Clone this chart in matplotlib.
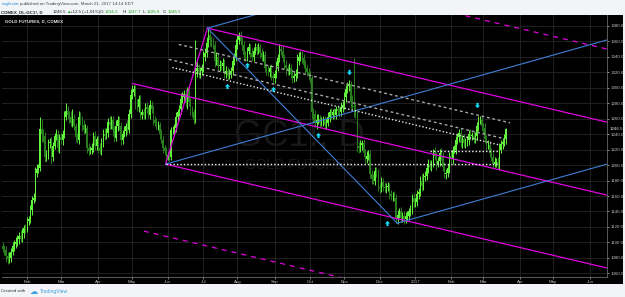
import matplotlib.pyplot as plt
import numpy as np
import pandas as pd
from matplotlib.patches import Rectangle
from matplotlib.path import Path

plt.rcParams["font.family"] = ["Liberation Sans", "DejaVu Sans"]

# daily bars, GC1! from 2016-01-11 to 2017-03-21 (business days)
dates = pd.bdate_range("2016-01-11", "2017-06-30")
first_open = 1095

closes = [
    # Jan 2016
    1092, 1090, 1083, 1078, 1080, 1088, 1095, 1098, 1100, 1104, 1108, 1105, 1112, 1118, 1117,
    # Feb
    1128, 1130, 1142, 1155, 1158, 1190, 1195, 1196, 1247, 1240, 1238, 1210, 1212, 1228, 1230,
    1210, 1225, 1238, 1240, 1222, 1236,
    # Mar
    1232, 1240, 1262, 1270, 1265, 1262, 1255, 1260, 1250, 1236, 1232, 1262, 1258, 1252, 1245,
    1248, 1222, 1218, 1220, 1222, 1238, 1225, 1234,
    # Apr
    1222, 1218, 1230, 1240, 1238, 1242, 1256, 1252, 1258, 1245, 1235, 1250, 1258, 1250, 1232,
    1240, 1244, 1250, 1245, 1266, 1290,
    # May
    1295, 1298, 1280, 1275, 1285, 1265, 1268, 1265, 1275, 1272, 1265, 1278, 1272, 1258, 1255,
    1250, 1252, 1240, 1233, 1222, 1218, 1212,
    # Jun
    1212, 1210, 1245, 1245, 1248, 1262, 1268, 1272, 1285, 1288, 1292, 1280, 1296, 1282, 1270,
    1268, 1258, 1322, 1325, 1318, 1322, 1325,
    # Jul
    1340, 1345, 1358, 1368, 1362, 1358, 1355, 1335, 1340, 1328, 1330, 1328, 1332, 1318, 1322,
    1315, 1318, 1322, 1335, 1340, 1355,
    # Aug
    1362, 1368, 1360, 1355, 1342, 1340, 1348, 1352, 1345, 1340, 1348, 1352, 1348, 1352, 1345,
    1340, 1342, 1325, 1322, 1320, 1325, 1315, 1312,
    # Sep
    1318, 1328, 1338, 1350, 1348, 1338, 1330, 1325, 1322, 1326, 1318, 1312, 1315, 1318, 1335,
    1340, 1342, 1338, 1330, 1325, 1320, 1316,
    # Oct
    1312, 1268, 1266, 1255, 1258, 1260, 1255, 1256, 1258, 1252, 1255, 1262, 1268, 1265, 1268,
    1265, 1272, 1270, 1268, 1275, 1278,
    # Nov
    1288, 1298, 1302, 1305, 1282, 1276, 1275, 1266, 1225, 1222, 1226, 1228, 1216, 1208, 1212,
    1214, 1188, 1182, 1180, 1192, 1190, 1172,
    # Dec
    1170, 1178, 1172, 1170, 1172, 1172, 1162, 1160, 1160, 1158, 1130, 1136, 1140, 1132, 1134,
    1130, 1134, 1134, 1140, 1142, 1158, 1152,
    # Jan 2017
    1152, 1162, 1165, 1180, 1173, 1185, 1186, 1196, 1200, 1198, 1202, 1215, 1212, 1202, 1205,
    1216, 1212, 1198, 1188, 1190, 1196, 1212,
    # Feb
    1208, 1220, 1220, 1232, 1236, 1242, 1228, 1234, 1228, 1230, 1232, 1240, 1238, 1238, 1234,
    1238, 1250, 1258, 1258, 1250,
    # Mar
    1248, 1234, 1226, 1226, 1216, 1210, 1202, 1204, 1204, 1200, 1220, 1227, 1230, 1234.2, 1246.5,
]

wick_hi = [
    6, 5, 6, 4, 8, 5, 6, 5, 7, 6, 5, 8, 6, 5, 6,
    5, 4, 6, 5, 6, 8, 6, 5, 15, 12, 6, 5, 8, 6, 5, 6, 5, 4, 6, 5, 4,
    6, 5, 8, 10, 6, 5, 8, 12, 6, 5, 6, 8, 6, 5, 6, 5, 4, 6, 5, 6, 5, 6, 4,
    5, 6, 5, 6, 8, 6, 5, 8, 6, 5, 6, 8, 6, 5, 6, 5, 6, 5, 8, 6, 8,
    8, 6, 5, 6, 5, 6, 5, 6, 5, 6, 5, 6, 5, 6, 5, 6, 5, 4, 6, 5, 4, 6,
    5, 6, 4, 6, 5, 6, 5, 6, 8, 6, 5, 6, 5, 6, 5, 6, 5, 40, 10, 6, 5, 6,
    8, 6, 8, 9, 6, 5, 6, 5, 6, 5, 6, 5, 6, 5, 6, 5, 6, 5, 6, 5, 8,
    6, 4, 5, 6, 5, 6, 5, 6, 5, 6, 5, 6, 5, 6, 5, 6, 5, 6, 5, 8, 5, 6, 5,
    5, 6, 5, 6, 5, 6, 5, 6, 5, 6, 5, 6, 5, 6, 8, 6, 5, 6, 5, 6, 5, 6,
    6, 4, 6, 5, 8, 6, 5, 6, 5, 6, 5, 6, 5, 6, 5, 6, 5, 6, 5, 6, 5,
    6, 5, 6, 5, 4, 8, 62, 5, 6, 5, 6, 5, 6, 5, 6, 5, 6, 5, 6, 5, 6, 5,
    5, 6, 5, 6, 5, 6, 5, 6, 5, 6, 5, 6, 5, 6, 5, 6, 5, 6, 5, 6, 5, 6,
    5, 6, 5, 6, 8, 5, 6, 5, 8, 6, 5, 6, 8, 5, 6, 5, 6, 5, 6, 5, 6, 5,
    6, 5, 6, 5, 6, 5, 6, 5, 6, 5, 6, 5, 6, 5, 6, 5, 6, 6, 6, 5,
    5, 6, 5, 6, 5, 6, 5, 6, 5, 6, 8, 6, 5, 6, 1.2,
]

wick_lo = [
    5, 6, 8, 6, 4, 5, 4, 6, 5, 4, 6, 5, 4, 6, 5,
    4, 6, 5, 6, 4, 5, 6, 5, 4, 10, 8, 6, 5, 4, 6, 8, 5, 4, 6, 5, 6,
    5, 6, 5, 4, 6, 8, 5, 6, 5, 6, 4, 5, 6, 8, 5, 4, 6, 5, 4, 6, 5, 6, 5,
    6, 4, 5, 6, 5, 4, 6, 5, 6, 8, 5, 4, 6, 5, 6, 5, 4, 6, 5, 4, 5,
    5, 6, 8, 5, 6, 5, 6, 5, 6, 5, 4, 6, 5, 6, 5, 4, 5, 6, 5, 6, 5, 11,
    6, 5, 4, 5, 6, 5, 6, 5, 6, 5, 6, 5, 8, 6, 5, 6, 5, 4, 8, 6, 5, 6,
    5, 6, 5, 6, 8, 6, 5, 8, 6, 5, 6, 5, 6, 5, 6, 5, 4, 6, 5, 6, 5,
    5, 6, 5, 6, 8, 5, 6, 5, 6, 5, 6, 5, 6, 5, 6, 5, 6, 5, 6, 5, 6, 5, 6,
    6, 5, 6, 5, 6, 5, 6, 8, 5, 6, 5, 6, 5, 6, 5, 6, 5, 6, 5, 6, 5, 6,
    6, 8, 10, 6, 8, 5, 6, 5, 6, 5, 6, 5, 6, 5, 6, 5, 6, 5, 6, 5, 6,
    5, 6, 5, 6, 8, 6, 13, 5, 8, 6, 5, 6, 5, 6, 5, 6, 5, 6, 5, 6, 5, 6,
    6, 5, 6, 5, 6, 5, 6, 5, 6, 5, 5, 6, 5, 6, 5, 6, 5, 6, 5, 6, 5, 6,
    6, 5, 6, 5, 6, 5, 6, 5, 6, 5, 6, 5, 6, 8, 5, 6, 5, 6, 5, 6, 5, 6,
    5, 6, 5, 6, 5, 6, 5, 6, 5, 6, 5, 6, 5, 6, 5, 6, 5, 6, 5, 6,
    6, 5, 6, 5, 6, 5, 6, 5, 6, 5, 6, 5, 6, 5, 7.6,
]

month_labels = ["Feb", "Mar", "Apr", "May", "Jun", "Jul", "Aug", "Sep", "Oct", "Nov", "Dec",
                "2017", "Feb", "Mar", "Apr", "May", "Jun"]
price_ticks = list(range(1060, 1381, 20))
last_price = 1246.5

# drawing anchors (bar index, price)
piv_a = (100.6, 1201.2)      # end of May low
piv_b = (126.5, 1377.0)      # July high
piv_c = (243.8, 1124.9)      # December low
piv_m = (80.1, 1305.5)       # early May high
chan_slope = -0.492          # price per bar of the magenta channel
dash_lo = (87.2, 1114.6)
dash_hi = (280.0, 1396.0)
gray_lines = [((108.8, 1356.0), (313.6, 1254.6)),
              ((102.7, 1336.6), (309.4, 1234.4))]
white_line = ((104.8, 1326.2), (307.4, 1225.8))
hlines = [(1201.2, 100.6, 305.5), (1218.4, 264.0, 307.0)]
arrows_up = [(138.9, 1302.1), (151.2, 1329.2), (167.3, 1298.2), (195.1, 1238.7), (237.7, 1124.5)]
arrows_dn = [(214.2, 1320.2), (293.2, 1277.5)]

W, H = 625, 297
fig = plt.figure(figsize=(W / 100, H / 100), dpi=100)
fig.patch.set_facecolor("#f2f4f7")
fig.patches.append(Rectangle((0, 13 / H), 623 / W, 269 / H, transform=fig.transFigure,
                             facecolor="black", edgecolor="none", zorder=-5))
ax = fig.add_axes([2 / W, 20 / H, 605 / W, 262 / H])
ax.set_zorder(2)
ax.set_facecolor("black")

n = len(closes)
idx = np.arange(n)
c = np.array(closes, dtype=float)
o = np.concatenate([[first_open], c[:-1]])
hi = np.maximum(o, c) + np.array(wick_hi)
lo = np.minimum(o, c) - np.array(wick_lo)
up = c >= o
cols = np.where(up, "#62f53c", "#2a7f1e")
ax.vlines(idx, lo, hi, colors=cols, lw=0.7, zorder=3)
ax.bar(idx, np.maximum(np.abs(c - o), 0.6), bottom=np.minimum(o, c), width=0.7,
       color=cols, zorder=3)

x_end = 373.5
ax.set_xlim(-0.5, x_end)
ax.set_ylim(1055.3, 1394.0)

# watermark
ax.text(0.492, 0.54, "GC1!, D", transform=ax.transAxes, ha="center", va="center",
        fontsize=26, color="#181818", zorder=1)
ax.text(0.492, 0.428, "GOLD FUTURES", transform=ax.transAxes, ha="center", va="center",
        fontsize=10, color="#181818", zorder=1)


def chan(p, xe):
    return [p[0], xe], [p[1], p[1] + chan_slope * (xe - p[0])]


mag = "#e100e1"
blue = "#3f7fd6"
ax.plot([piv_a[0], piv_b[0]], [piv_a[1], piv_b[1]], color=mag, lw=0.9, zorder=4)
for p in (piv_b, piv_m, piv_a):
    ax.plot(*chan(p, x_end), color=mag, lw=0.9, zorder=4)
for p in (dash_lo, dash_hi):
    ax.plot(*chan(p, x_end), color=mag, lw=0.9, ls=(0, (4, 4)), zorder=4)

mid = ((piv_b[0] + piv_c[0]) / 2, (piv_b[1] + piv_c[1]) / 2)
med_slope = (mid[1] - piv_a[1]) / (mid[0] - piv_a[0])
for p in (piv_a, piv_b, piv_c):
    ax.plot([p[0], x_end], [p[1], p[1] + med_slope * (x_end - p[0])], color=blue, lw=0.8, zorder=4)
ax.plot([piv_b[0], piv_c[0]], [piv_b[1], piv_c[1]], color=blue, lw=0.8, zorder=4)

for (p, q) in gray_lines:
    ax.plot([p[0], q[0]], [p[1], q[1]], color="#a8a8a8", lw=1.0, ls=(0, (2, 2)), zorder=4)
ax.plot([white_line[0][0], white_line[1][0]], [white_line[0][1], white_line[1][1]],
        color="#e8e8e8", lw=1.0, ls=(0, (1, 1.5)), zorder=4)
for (yv, xa, xb) in hlines:
    ax.plot([xa, xb], [yv, yv], color="#f0f0f0", lw=1.0, ls=(0, (1, 1.5)), zorder=4)

arrow_up = Path([(0, 1), (-1, 0), (-0.4, 0), (-0.4, -1), (0.4, -1), (0.4, 0), (1, 0), (0, 1)],
                closed=True)
arrow_dn = Path([(0, -1), (-1, 0), (-0.4, 0), (-0.4, 1), (0.4, 1), (0.4, 0), (1, 0), (0, -1)],
                closed=True)
ax.scatter([a[0] for a in arrows_up], [a[1] for a in arrows_up], marker=arrow_up, s=14,
           color="#14e0ff", zorder=5, linewidths=0)
ax.scatter([a[0] for a in arrows_dn], [a[1] for a in arrows_dn], marker=arrow_dn, s=14,
           color="#14e0ff", zorder=5, linewidths=0)

# axes, ticks, grid
month_starts = [i for i in range(1, len(dates)) if dates[i].month != dates[i - 1].month]
ax.set_xticks(month_starts)
ax.set_xticklabels(month_labels)
ax.set_yticks(price_ticks)
ax.set_yticklabels([f"{v:.1f}" for v in price_ticks])
ax.yaxis.tick_right()
ax.grid(True, color="#262626", lw=0.6)
ax.set_axisbelow(True)
ax.tick_params(axis="both", labelsize=3.2, colors="#c0c0c0", length=1.5, width=0.5, pad=1.0)
for s in ("top", "left"):
    ax.spines[s].set_visible(False)
for s in ("right", "bottom"):
    ax.spines[s].set_color("#6a6a6a")
    ax.spines[s].set_linewidth(0.6)
ax.text(1.004, last_price, "1246.5", transform=ax.get_yaxis_transform(),
        fontsize=3.2, color="#e6e6e6", va="center", ha="left", zorder=6, clip_on=False)

ax.text(0.005, 0.985, "GOLD FUTURES, D, COMEX", transform=ax.transAxes, fontsize=3.2,
        color="#e6e6e6", va="top", ha="left", fontweight="bold")

# header / footer
fs = 3.2
hdr = 1 - 4.5 / H
fig.text(1.5 / W, hdr, "eaglestar", color="#2f8fd8", fontsize=fs, va="center")
fig.text(19.5 / W, hdr, "published on TradingView.com, March 21, 2017 14:14 EDT",
         color="#444444", fontsize=fs, va="center")
hdr2 = 1 - 12 / H
fig.text(1.5 / W, hdr2, "COMEX_DL:GC1!, D", color="#222222", fontsize=fs, va="center",
         fontweight="bold")
green = "#1fa51f"
parts = [(53, "1246.5", "#222222"), (66, "\u25b2", green), (69.5, "+12.5 (+1.01%)", "#222222"),
         (100, "O:", "#222222"), (105, "1234.2", green), (122.5, "H:", "#222222"),
         (127.5, "1247.7", green), (143, "L:", "#222222"), (147, "1226.6", green),
         (163, "C:", "#222222"), (167.5, "1246.5", green)]
for xp, t, col in parts:
    fig.text(xp / W, hdr2, t, color=col, fontsize=fs, va="center")

ftr = 1 - 291 / H
fig.text(1.5 / W, ftr, "Created with", color="#333333", fontsize=fs, va="center")
fig.text(29.5 / W, ftr, "\u2601", color="#3fa0e0", fontsize=6, va="center",
         family="DejaVu Sans")
fig.text(40 / W, ftr, "TradingView", color="#3fa0e0", fontsize=3.6, va="center")

fig.savefig("out.png", dpi=100, facecolor=fig.get_facecolor())
